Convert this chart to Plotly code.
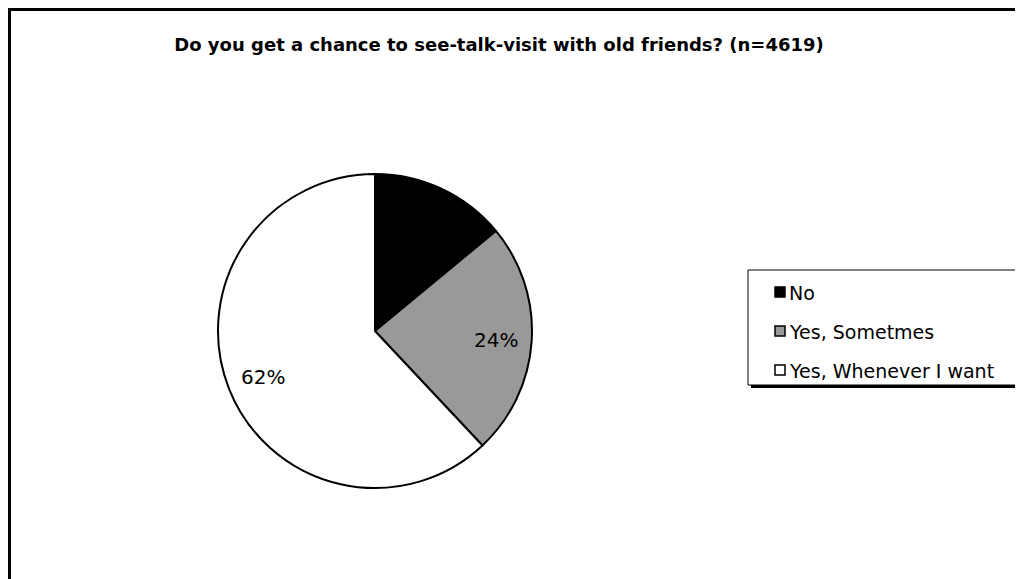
import math
import plotly.graph_objects as go

# Data
categories = ["No", "Yes, Sometmes", "Yes, Whenever I want"]
values = [14, 24, 62]
colors = ["#000000", "#999999", "#ffffff"]
title_text = "Do you get a chance to see-talk-visit with old friends? (n=4619)"

# Page body has an 8px margin; map screen pixels into figure paper coords
OFF = 8
W, H = 1023 - OFF, 579 - OFF


def px(x):
    return (x - OFF) / W


def py(y):
    return 1 - (y - OFF) / H


FONT = "DejaVu Sans, Liberation Sans, Arial, sans-serif"

# pie geometry (screen pixels)
CX, CY, R = 375, 331, 157

fig = go.Figure()
fig.add_trace(go.Pie(
    labels=categories,
    values=values,
    sort=False,
    direction="clockwise",
    rotation=0,
    marker=dict(colors=colors, line=dict(color="#000000", width=2)),
    textinfo="none",
    domain=dict(x=[px(CX - R), px(CX + R)], y=[py(CY + R), py(CY - R)]),
    showlegend=False,
    hoverinfo="label+percent",
))

annotations = []
# percentage labels placed radially in each slice
total = sum(values)
cum = 0
for v in values:
    mid = (cum + v / 2) / total * 2 * math.pi
    cum += v
    rr = 0.77 * R
    lx = CX + rr * math.sin(mid)
    ly = CY - rr * math.cos(mid)
    annotations.append(dict(xref="paper", yref="paper", x=px(lx), y=py(ly + 1),
                            text=f"{round(v / total * 100)}%", showarrow=False,
                            xanchor="center", yanchor="middle",
                            font=dict(family=FONT, size=20, color="#000000")))

shapes = []
# outer frame (extends beyond right/bottom edges)
shapes.append(dict(type="rect", xref="paper", yref="paper",
                   x0=px(9.5), x1=px(1040), y0=py(600), y1=py(9.5),
                   line=dict(color="#000000", width=3), fillcolor="rgba(0,0,0,0)", layer="above"))
# legend box shadow and box
shapes.append(dict(type="rect", xref="paper", yref="paper",
                   x0=px(751), x1=px(1040), y0=py(388), y1=py(273),
                   line=dict(width=0), fillcolor="#000000"))
shapes.append(dict(type="rect", xref="paper", yref="paper",
                   x0=px(748), x1=px(1040), y0=py(385), y1=py(270),
                   line=dict(color="#000000", width=1), fillcolor="#ffffff"))

item_y = [292, 331, 370]
for cat, col, yc in zip(categories, colors, item_y):
    shapes.append(dict(type="rect", xref="paper", yref="paper",
                       x0=px(775), x1=px(785), y0=py(yc + 5), y1=py(yc - 5),
                       line=dict(color="#000000", width=1.5), fillcolor=col))
    annotations.append(dict(xref="paper", yref="paper", x=px(787), y=py(yc + 1),
                            text=cat, showarrow=False, xanchor="left", yanchor="middle",
                            font=dict(family=FONT, size=19, color="#000000")))

fig.update_layout(
    width=W, height=H,
    margin=dict(l=0, r=0, t=0, b=0),
    paper_bgcolor="#ffffff",
    plot_bgcolor="#ffffff",
    title=dict(text="<b>" + title_text + "</b>", x=px(499), y=py(45), xanchor="center", yanchor="middle",
               font=dict(family=FONT, size=18, color="#000000")),
    shapes=shapes,
    annotations=annotations,
)

fig.write_html("out.html")
